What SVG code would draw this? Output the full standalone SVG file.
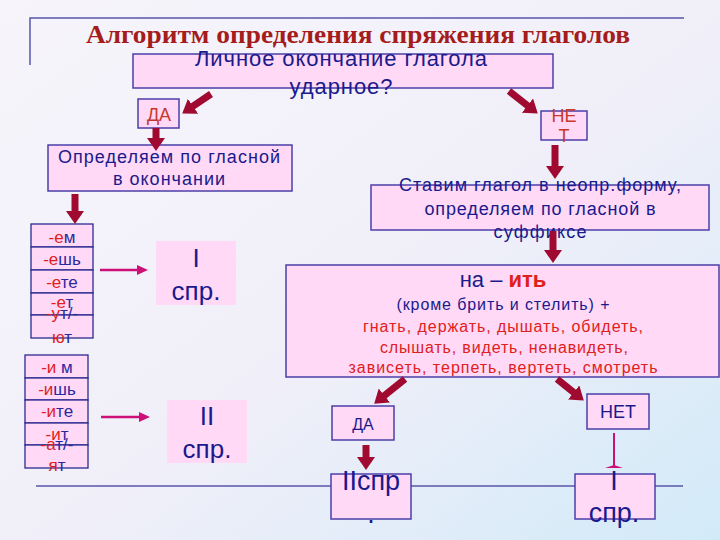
<svg xmlns="http://www.w3.org/2000/svg" width="720" height="540" viewBox="0 0 720 540">
<defs>
<linearGradient id="bg" x1="0" y1="0" x2="1" y2="1">
<stop offset="0" stop-color="#f7f5fb"/>
<stop offset="0.55" stop-color="#f0eff9"/>
<stop offset="1" stop-color="#d2eaf8"/>
</linearGradient>
<marker id="fat" markerUnits="userSpaceOnUse" markerWidth="14" markerHeight="18" viewBox="0 0 14 18" refX="3" refY="9" orient="auto">
<path d="M0,0 L13,9 L0,18 z" fill="#a00a30"/>
</marker>
<marker id="thin" markerUnits="userSpaceOnUse" markerWidth="11" markerHeight="10" viewBox="0 0 11 10" refX="2" refY="5" orient="auto">
<path d="M0,0 L11,5 L0,10 z" fill="#cc1077"/>
</marker>
</defs>
<style>
.box{fill:#ffd9f6;stroke:#4b3fa8;stroke-width:1.5}
.plain{fill:#ffd9f6}
.t{font-family:"Liberation Sans",Arial,sans-serif;fill:#1a1a8c;text-anchor:middle}
.r{fill:#e0201c}
.b{fill:#1a1a8c}
.yn{font-family:"Liberation Sans",Arial,sans-serif;fill:#c8382a;text-anchor:middle;font-size:18px}
.fat{stroke:#a00a30;stroke-width:7;fill:none;marker-end:url(#fat)}
.mag{stroke:#cc1077;stroke-width:2.5;fill:none;marker-end:url(#thin)}
.frame{stroke:#5a55aa;stroke-width:1.5;fill:none}
.row{fill:#ffd9f6;stroke:#2a2a90;stroke-width:1.3}
.sfx{font-family:"Liberation Sans",Arial,sans-serif;font-size:17px;text-anchor:middle;fill:#2a2aa0}
</style>
<rect x="0" y="0" width="720" height="540" fill="url(#bg)"/>

<g id="frame">
<path class="frame" d="M30,65 V18 H684"/>
<line class="frame" x1="36" y1="486" x2="683" y2="486"/>
</g>

<g id="title">
<text x="358" y="43" font-family="Liberation Serif, serif" font-weight="bold" font-size="26" fill="#a51c1c" text-anchor="middle" textLength="544" lengthAdjust="spacingAndGlyphs">Алгоритм определения спряжения глаголов</text>
</g>

<g id="question">
<rect class="box" x="133" y="54" width="420" height="34"/>
<text class="t" x="341" y="66" font-size="22" textLength="292">Личное окончание глагола</text>
<text class="t" x="341" y="94" font-size="22" textLength="103">ударное?</text>
</g>

<g id="yes1">
<rect class="box" x="138" y="99" width="41" height="29"/>
<text class="yn" x="159" y="121">ДА</text>
</g>

<g id="no1">
<rect class="box" x="541" y="111" width="46" height="29"/>
<text class="yn" x="564" y="122">НЕ</text>
<text class="yn" x="564" y="142">Т</text>
</g>

<g id="vowel-ending">
<rect class="box" x="48" y="145" width="244" height="46"/>
<text class="t" x="169" y="163" font-size="18" textLength="222">Определяем по гласной</text>
<text class="t" x="169" y="185" font-size="18" textLength="112">в окончании</text>
</g>

<g id="list1">
<rect class="row" x="31" y="224" width="62" height="23"/>
<rect class="row" x="31" y="247" width="62" height="23"/>
<rect class="row" x="31" y="270" width="62" height="23"/>
<rect class="row" x="31" y="293" width="62" height="22"/>
<rect class="row" x="31" y="315" width="62" height="23"/>
<text class="sfx" x="62" y="243"><tspan class="r">-е</tspan>м</text>
<text class="sfx" x="62" y="265"><tspan class="r">-е</tspan>шь</text>
<text class="sfx" x="62" y="288"><tspan class="r">-е</tspan>те</text>
<text class="sfx" x="62" y="308"><tspan class="r">-е</tspan>т</text>
<text class="sfx" x="62" y="319"><tspan class="r">-у</tspan>т/-</text>
<text class="sfx" x="62" y="343"><tspan class="r">ю</tspan>т</text>
</g>

<g id="conj1-top">
<rect class="plain" x="156" y="241" width="80" height="64"/>
<text class="t" x="196" y="267" font-size="26">I</text>
<text class="t" x="196" y="300" font-size="26">спр.</text>
</g>

<g id="list2">
<rect class="row" x="25" y="355" width="63" height="23"/>
<rect class="row" x="25" y="378" width="63" height="22"/>
<rect class="row" x="25" y="400" width="63" height="23"/>
<rect class="row" x="25" y="423" width="63" height="22"/>
<rect class="row" x="25" y="445" width="63" height="23"/>
<text class="sfx" x="57" y="373"><tspan class="r">-и</tspan> м</text>
<text class="sfx" x="57" y="395"><tspan class="r">-и</tspan>шь</text>
<text class="sfx" x="57" y="417"><tspan class="r">-и</tspan>те</text>
<text class="sfx" x="57" y="440"><tspan class="r">-и</tspan>т</text>
<text class="sfx" x="57" y="450"><tspan class="r">-а</tspan>т/-</text>
<text class="sfx" x="57" y="471"><tspan class="r">я</tspan>т</text>
</g>

<g id="conj2-top">
<rect class="plain" x="167" y="400" width="80" height="63"/>
<text class="t" x="207" y="425" font-size="26">II</text>
<text class="t" x="207" y="458" font-size="26">спр.</text>
</g>

<g id="infinitive">
<rect class="box" x="371" y="185" width="338" height="45"/>
<text class="t" x="540" y="191" font-size="18" textLength="282">Ставим глагол в неопр.форму,</text>
<text class="t" x="540" y="215" font-size="18" textLength="231">определяем по гласной в</text>
<text class="t" x="540" y="238" font-size="18" textLength="93">суффиксе</text>
</g>

<g id="it-rule">
<rect class="box" x="286" y="265" width="433" height="112"/>
<text class="t" x="503" y="287" font-size="22">на – <tspan class="r" font-weight="bold">ить</tspan></text>
<text class="t" x="503" y="310" font-size="16" textLength="213">(кроме брить и стелить) +</text>
<text class="t r" x="503" y="332" font-size="16" textLength="280">гнать, держать, дышать, обидеть,</text>
<text class="t r" x="504" y="353" font-size="16" textLength="248">слышать, видеть, ненавидеть,</text>
<text class="t r" x="503" y="373" font-size="16" textLength="309">зависеть, терпеть, вертеть, смотреть</text>
</g>

<g id="yes2">
<rect class="box" x="332" y="406" width="62" height="34"/>
<text class="t" x="363" y="430" font-size="16">ДА</text>
</g>

<g id="no2">
<rect class="box" x="587" y="394" width="62" height="35"/>
<text class="t" x="618" y="418" font-size="18">НЕТ</text>
</g>

<g id="conj2-bottom">
<rect class="box" x="331" y="474" width="80" height="45"/>
<text class="t" x="371" y="490" font-size="27">IIспр</text>
<text class="t" x="371" y="523" font-size="27">.</text>
</g>

<g id="conj1-bottom">
<rect class="box" x="575" y="474" width="80" height="45"/>
<text class="t" x="614" y="490" font-size="27">I</text>
<text class="t" x="614" y="522" font-size="27">спр.</text>
</g>

<g id="connectors">
<line class="fat" x1="211" y1="94" x2="190.5" y2="107.9"/>
<line class="fat" x1="509" y1="91" x2="529.9" y2="107.4"/>
<line class="fat" x1="156" y1="128" x2="156" y2="141"/>
<line class="fat" x1="75" y1="194" x2="75" y2="214"/>
<line class="fat" x1="555" y1="145" x2="555" y2="169"/>
<line class="fat" x1="553" y1="231" x2="553" y2="253"/>
<line class="fat" x1="405" y1="379" x2="382" y2="397.4"/>
<line class="fat" x1="557" y1="379" x2="576" y2="394.3"/>
<line class="fat" x1="366" y1="445" x2="366" y2="460"/>
<line class="mag" x1="100" y1="270" x2="139" y2="270"/>
<line class="mag" x1="101" y1="417" x2="141" y2="417"/>
<line x1="614" y1="433" x2="614" y2="466" stroke="#cc1077" stroke-width="2"/>
<path d="M605,468 L614,465 L623,468 z" fill="#cc1077"/>
</g>
</svg>
